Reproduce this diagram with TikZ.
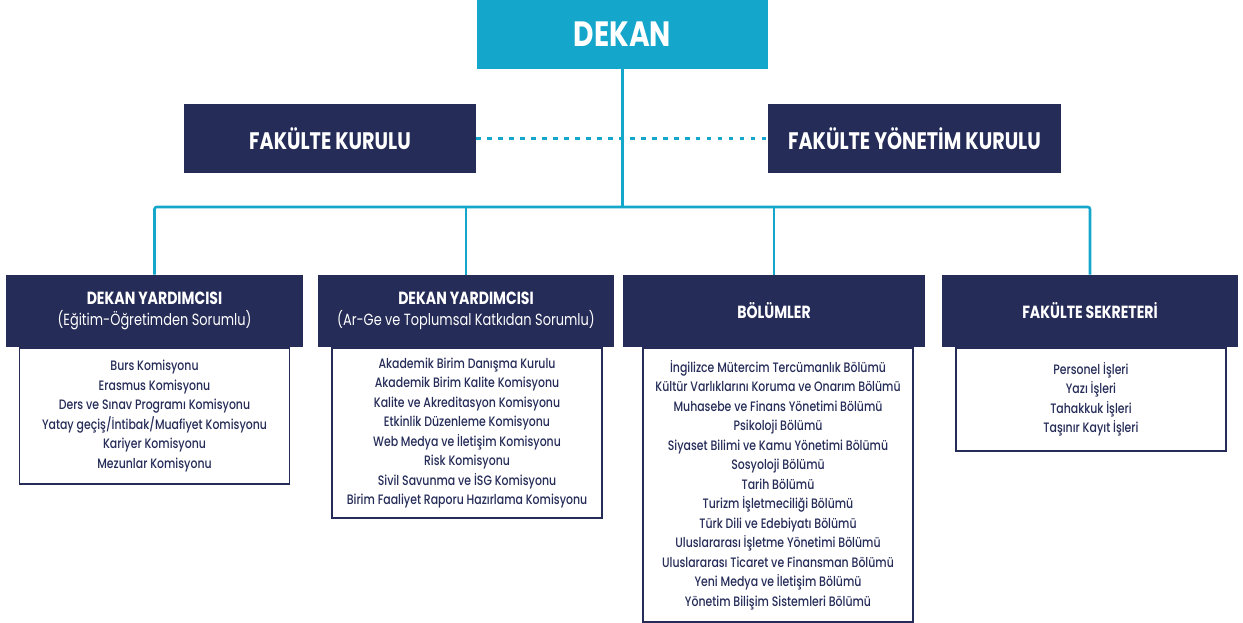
\documentclass[tikz,border=0pt]{standalone}
\usepackage{fontspec}
\setmainfont{Poppins}[FakeStretch=0.8]
\newfontfamily\medfont{Poppins Medium}[FakeStretch=0.8]
\usepackage{tikz}
\usetikzlibrary{positioning}
\definecolor{navy}{HTML}{252C58}
\definecolor{turq}{HTML}{15A7CB}

\tikzset{
  conn/.style={turq,line width=1.8pt,rounded corners=1.5pt},
  dotlink/.style={turq,line width=2.8pt,dash pattern=on 3.4pt off 4.4pt},
  topbox/.style={fill=turq,text=white,minimum width=7.275cm,minimum height=1.725cm,
    inner sep=0pt,font=\fontsize{25}{30}\selectfont\bfseries},
  kurulbox/.style={fill=navy,text=white,minimum width=7.3cm,minimum height=1.725cm,
    inner sep=0pt,font=\fontsize{17}{20}\selectfont\bfseries},
  headbox/.style={fill=navy,text=white,minimum width=7.4cm,minimum height=1.8cm,
    inner sep=0pt,align=center,font=\fontsize{12.5}{15}\selectfont\bfseries},
  listbox/.style={draw=navy,line width=1.3pt,fill=white,text=navy,minimum width=6.75cm,
    inner sep=0pt,align=center,anchor=north,font=\fontsize{9.7}{13.87}\selectfont\medfont},
}
\newcommand{\subline}[1]{{\fontsize{11.5}{15}\selectfont\mdseries #1}}

\begin{document}
\begin{tikzpicture}[x=0.025cm,y=-0.025cm]
 \useasboundingbox (0,0) rectangle (1243,623);

 \node[topbox] (dekan) at (622.5,34.5) {DEKAN};
 \node[kurulbox] (fk) at (330,138.5) {FAKÜLTE KURULU};
 \node[kurulbox] (fyk) at (914.5,138.5) {FAKÜLTE YÖNETİM KURULU};
 \coordinate (bar) at (622.5,207);

 \node[listbox,minimum height=3.4cm] (ls1) at (154.5,347)
   {Burs Komisyonu\\Erasmus Komisyonu\\Ders ve Sınav Programı Komisyonu\\
    Yatay geçiş/İntibak/Muafiyet Komisyonu\\Kariyer Komisyonu\\Mezunlar Komisyonu};
 \node[listbox,minimum height=4.25cm] (ls2) at (467,347)
   {Akademik Birim Danışma Kurulu\\Akademik Birim Kalite Komisyonu\\
    Kalite ve Akreditasyon Komisyonu\\Etkinlik Düzenleme Komisyonu\\
    Web Medya ve İletişim Komisyonu\\Risk Komisyonu\\Sivil Savunma ve İSG Komisyonu\\
    Birim Faaliyet Raporu Hazırlama Komisyonu};
 \node[listbox,minimum height=6.85cm] (ls3) at (778,347)
   {İngilizce Mütercim Tercümanlık Bölümü\\Kültür Varlıklarını Koruma ve Onarım Bölümü\\
    Muhasebe ve Finans Yönetimi Bölümü\\Psikoloji Bölümü\\
    Siyaset Bilimi ve Kamu Yönetimi Bölümü\\Sosyoloji Bölümü\\Tarih Bölümü\\
    Turizm İşletmeciliği Bölümü\\Türk Dili ve Edebiyatı Bölümü\\
    Uluslararası İşletme Yönetimi Bölümü\\Uluslararası Ticaret ve Finansman Bölümü\\
    Yeni Medya ve İletişim Bölümü\\Yönetim Bilişim Sistemleri Bölümü};
 \node[listbox,minimum height=2.575cm] (ls4) at (1091,347)
   {Personel İşleri\\Yazı İşleri\\Tahakkuk İşleri\\Taşınır Kayıt İşleri};

 \node[headbox] (hd1) at (154.5,311)
   {DEKAN YARDIMCISI\\\subline{(Eğitim-Öğretimden Sorumlu)}};
 \node[headbox] (hd2) at (466,311)
   {DEKAN YARDIMCISI\\\subline{(Ar-Ge ve Toplumsal Katkıdan Sorumlu)}};
 \node[headbox,minimum width=7.55cm] (hd3) at (774,311) {BÖLÜMLER};
 \node[headbox] (hd4) at (1090,311) {FAKÜLTE SEKRETERİ};

 \draw[dotlink] (fk) -- (fyk);
 \draw[conn] (dekan) -- (bar);
 \draw[conn] (hd1.north) |- (bar) -| (hd4.north);
 \foreach \h in {hd2,hd3}
   \draw[conn] (\h.north) -- (\h.north |- bar);
\end{tikzpicture}
\end{document}
